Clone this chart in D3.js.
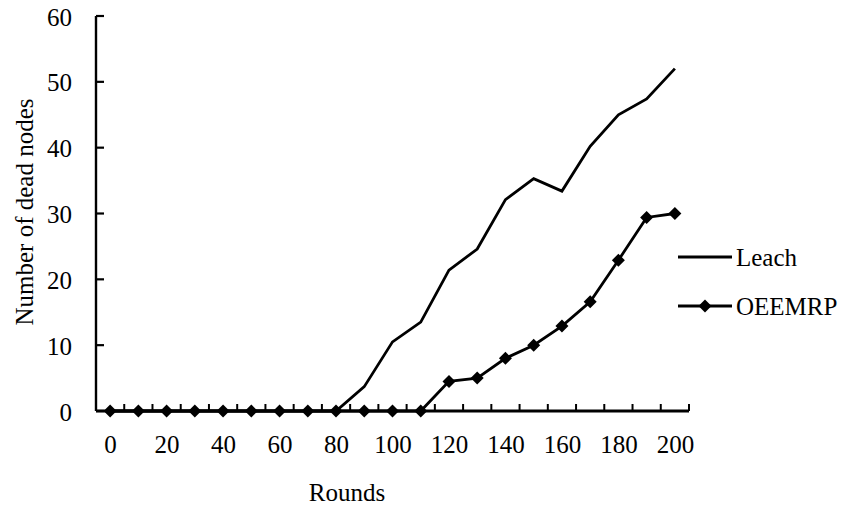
<!DOCTYPE html>
<html>
<head>
<meta charset="utf-8">
<script src="https://cdn.jsdelivr.net/npm/d3@7"></script>
<style>
  body { margin: 0; background: #fff; }
  svg { display: block; }
  text { font-family: "Liberation Serif", "Times New Roman", serif; fill: #000; }
</style>
</head>
<body>
<svg id="chart" width="848" height="507"></svg>
<script>
const rounds = [0,10,20,30,40,50,60,70,80,90,100,110,120,130,140,150,160,170,180,190,200];
const leach  = [0,0,0,0,0,0,0,0,0,3.7,10.5,13.5,21.4,24.6,32.1,35.3,33.4,40.2,45.0,47.4,52.0];
const oeemrp = [0,0,0,0,0,0,0,0,0,0,0,0,4.5,5.0,8.0,10.0,12.9,16.6,22.9,29.4,30.0];
const xTickLabels = [0,20,40,60,80,100,120,140,160,180,200];
const yTicks = [0,10,20,30,40,50,60];
const seriesNames = ["Leach","OEEMRP"];

const svg = d3.select("#chart");
const mLeft = 96, mRight = 689, mTop = 16, mBottom = 411;
const fs = 25;
const FONT = "Liberation Serif";

const x = d3.scalePoint().domain(rounds).range([mLeft, mRight]).padding(0.5);
const band = d3.scaleBand().domain(rounds).range([mLeft, mRight]).padding(0);
const y = d3.scaleLinear().domain([0, 60]).range([mBottom, mTop]);

// Y axis
const yAxis = svg.append("g").attr("transform", `translate(${mLeft},0)`)
  .call(d3.axisLeft(y).tickValues(yTicks).tickSize(0).tickPadding(24));
yAxis.attr("font-family", FONT).attr("font-size", fs);
yAxis.select(".domain").remove();
yAxis.selectAll("text").style("font-size", fs + "px").style("font-family", FONT).attr("dy", "0.36em");
svg.append("line").attr("x1", mLeft).attr("x2", mLeft).attr("y1", y(60)).attr("y2", y(0))
  .attr("stroke", "#000").attr("stroke-width", 2.4);
svg.selectAll(".ytick").data(yTicks).enter().append("line")
  .attr("x1", mLeft).attr("x2", mLeft + 8)
  .attr("y1", d => y(d)).attr("y2", d => y(d))
  .attr("stroke", "#000").attr("stroke-width", 2.2);

// X axis
const xAxis = svg.append("g").attr("transform", `translate(0,${mBottom})`)
  .call(d3.axisBottom(x).tickValues(xTickLabels).tickSize(0).tickPadding(24));
xAxis.attr("font-family", FONT).attr("font-size", fs);
xAxis.select(".domain").remove();
xAxis.selectAll("text").style("font-size", fs + "px").style("font-family", FONT).attr("dy", "0.71em");
const bounds = rounds.map(r => band(r)).concat([mRight]);
svg.selectAll(".xtick").data(bounds).enter().append("line")
  .attr("x1", d => d).attr("x2", d => d)
  .attr("y1", mBottom).attr("y2", mBottom - 7)
  .attr("stroke", "#000").attr("stroke-width", 2);
svg.append("line").attr("x1", mLeft).attr("x2", mRight).attr("y1", mBottom).attr("y2", mBottom)
  .attr("stroke", "#000").attr("stroke-width", 3);

// Lines
const line = d3.line().x((d, i) => x(rounds[i])).y(d => y(d));
svg.append("path").datum(leach).attr("d", line)
  .attr("fill", "none").attr("stroke", "#000").attr("stroke-width", 2.8);
svg.append("path").datum(oeemrp).attr("d", line)
  .attr("fill", "none").attr("stroke", "#000").attr("stroke-width", 2.8);

const diamond = r => `M0,${-r}L${r},0L0,${r}L${-r},0Z`;
svg.selectAll(".mk").data(oeemrp).enter().append("path")
  .attr("d", diamond(6.5))
  .attr("transform", (d, i) => `translate(${x(rounds[i])},${y(d)})`)
  .attr("fill", "#000");

// Axis titles
svg.append("text").attr("x", 347).attr("y", 501).attr("text-anchor", "middle")
  .style("font-family", FONT).style("font-size", fs + "px").text("Rounds");
svg.append("text").attr("transform", "translate(33,212) rotate(-90)").attr("text-anchor", "middle")
  .style("font-family", FONT).style("font-size", fs + "px").text("Number of dead nodes");

// Legend
const lg = svg.append("g");
const legY = [257, 306];
seriesNames.forEach((name, i) => {
  lg.append("line").attr("x1", 678).attr("x2", 732).attr("y1", legY[i]).attr("y2", legY[i])
    .attr("stroke", "#000").attr("stroke-width", 2.8);
  if (i === 1) {
    lg.append("path").attr("d", diamond(6.5)).attr("transform", `translate(705,${legY[i]})`).attr("fill", "#000");
  }
  lg.append("text").attr("x", 736).attr("y", legY[i]).attr("dy", "0.34em")
    .style("font-family", FONT).style("font-size", fs + "px").text(name);
});
</script>
</body>
</html>
